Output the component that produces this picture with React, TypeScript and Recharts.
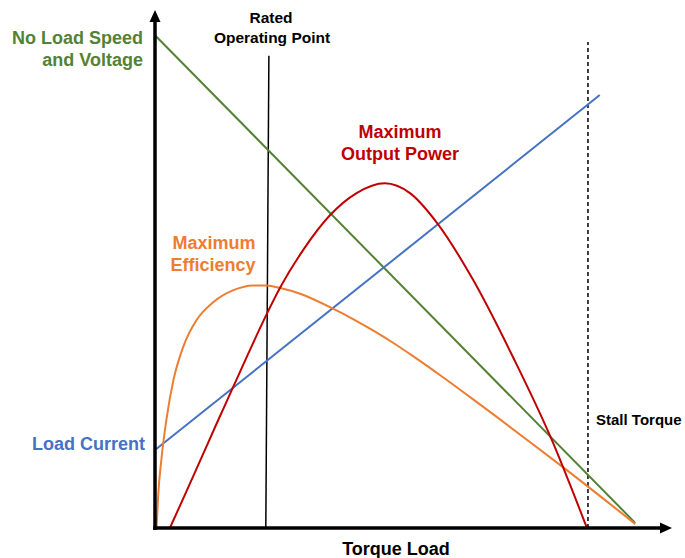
import React from "react"
import { LineChart, Line, XAxis, YAxis, ReferenceLine } from "recharts"

// torque load (0-100) vs normalised quantity (0-100)
const speedPts = [
  { x: 0, y: 95.5 },
  { x: 93.6, y: 1.0 },
]
const currentPts = [
  { x: 0, y: 15.1 },
  { x: 86.7, y: 83.9 },
]
const powerPts = [
  { x: 2.9, y: 0 },
  { x: 6.0, y: 6.8 },
  { x: 9.0, y: 13.5 },
  { x: 12.0, y: 20.2 },
  { x: 15.0, y: 26.8 },
  { x: 18.0, y: 33.4 },
  { x: 21.7, y: 41.3 },
  { x: 24.4, y: 46.6 },
  { x: 28.9, y: 53.9 },
  { x: 34.1, y: 60.6 },
  { x: 39.3, y: 64.9 },
  { x: 44.8, y: 66.8 },
  { x: 49.7, y: 64.9 },
  { x: 55.0, y: 59.1 },
  { x: 62.0, y: 48.1 },
  { x: 69.8, y: 33.1 },
  { x: 77.6, y: 16.5 },
  { x: 81.5, y: 6.9 },
  { x: 84.2, y: 0 },
]
const efficiencyPts = [
  { x: 0.3, y: 0 },
  { x: 0.6, y: 6.0 },
  { x: 1.3, y: 13.8 },
  { x: 2.3, y: 21.5 },
  { x: 3.6, y: 28.7 },
  { x: 5.5, y: 35.1 },
  { x: 8.1, y: 40.3 },
  { x: 11.4, y: 43.8 },
  { x: 15.3, y: 46.1 },
  { x: 19.2, y: 47.0 },
  { x: 21.8, y: 47.0 },
  { x: 24.4, y: 46.5 },
  { x: 28.3, y: 45.4 },
  { x: 34.7, y: 42.5 },
  { x: 38.6, y: 40.5 },
  { x: 42.5, y: 38.3 },
  { x: 46.4, y: 35.9 },
  { x: 50.3, y: 33.3 },
  { x: 55.6, y: 29.6 },
  { x: 63.4, y: 23.9 },
  { x: 79.9, y: 11.5 },
  { x: 93.6, y: 0.8 },
]
const ratedPts = [
  { x: 22.2, y: 91.5 },
  { x: 21.6, y: 0 },
]
const stallX = 84.4
const stallTop = 94.2

const GREEN = "#548235"
const BLUE = "#4472c4"
const RED = "#c00000"
const ORANGE = "#ed7d31"
const FONT = "'Liberation Sans', Arial, sans-serif"

// axis line with an arrowhead at its far end
const arrowAxis = (dir: "x" | "y") => (props: any) => {
  const { x1, y1, x2, y2 } = props
  const sx = dir === "x" ? Math.min(x1, x2) : x1
  const sy = dir === "x" ? y1 : Math.max(y1, y2)
  const ex = dir === "x" ? Math.max(x1, x2) : x1
  const ey = dir === "x" ? y1 : Math.min(y1, y2)
  const head =
    dir === "x"
      ? `${ex + 4},${ey} ${ex - 8},${ey - 5.5} ${ex - 8},${ey + 5.5}`
      : `${ex},${ey - 2} ${ex - 5.5},${ey + 10} ${ex + 5.5},${ey + 10}`
  return (
    <g>
      <line
        x1={dir === "x" ? sx - 2 : sx}
        y1={dir === "y" ? sy + 2 : sy}
        x2={dir === "x" ? ex - 6 : ex}
        y2={dir === "y" ? ey + 8 : ey}
        stroke="#000"
        strokeWidth={3.5}
      />
      <polygon points={head} fill="#000" />
    </g>
  )
}

export default function App() {
  return (
    <div style={{ position: "absolute", left: 0, top: 0, width: 685, height: 558, background: "#fff", overflow: "hidden" }}>
      <LineChart width={685} height={558} margin={{ top: 12, right: 17, bottom: 30, left: 155 }}>
        <XAxis type="number" dataKey="x" domain={[0, 100]} hide allowDataOverflow />
        <YAxis type="number" dataKey="y" domain={[0, 100]} hide allowDataOverflow />
        <Line data={ratedPts} dataKey="y" type="linear" stroke="#000" strokeWidth={1.5} dot={false} isAnimationActive={false} />
        <ReferenceLine
          segment={[{ x: stallX, y: 0 }, { x: stallX, y: stallTop }]}
          stroke="#000"
          strokeWidth={1.5}
          strokeDasharray="4 3"
          ifOverflow="visible"
        />
        <Line data={speedPts} dataKey="y" type="linear" stroke={GREEN} strokeWidth={2} dot={false} isAnimationActive={false} />
        <Line data={currentPts} dataKey="y" type="linear" stroke={BLUE} strokeWidth={2} dot={false} isAnimationActive={false} />
        <Line data={efficiencyPts} dataKey="y" type="monotone" stroke={ORANGE} strokeWidth={2} dot={false} isAnimationActive={false} />
        <Line data={powerPts} dataKey="y" type="monotone" stroke={RED} strokeWidth={2} dot={false} isAnimationActive={false} />
        <ReferenceLine segment={[{ x: 0, y: 0 }, { x: 100, y: 0 }]} ifOverflow="visible" shape={arrowAxis("x")} />
        <ReferenceLine segment={[{ x: 0, y: 0 }, { x: 0, y: 100 }]} ifOverflow="visible" shape={arrowAxis("y")} />
      </LineChart>
      <svg width={685} height={558} style={{ position: "absolute", left: 0, top: 0, pointerEvents: "none" }}>
        <g fontFamily={FONT} fontWeight="bold">
          <text x={143} y={44} fontSize={18} fill={GREEN} textAnchor="end">No Load Speed</text>
          <text x={143} y={66} fontSize={18} fill={GREEN} textAnchor="end">and Voltage</text>
          <text x={271} y={23} fontSize={15.5} fill="#000" textAnchor="middle">Rated</text>
          <text x={272} y={43} fontSize={15.5} fill="#000" textAnchor="middle">Operating Point</text>
          <text x={400} y={138} fontSize={18} fill={RED} textAnchor="middle">Maximum</text>
          <text x={400} y={160} fontSize={18} fill={RED} textAnchor="middle">Output Power</text>
          <text x={214} y={249} fontSize={18} fill={ORANGE} textAnchor="middle">Maximum</text>
          <text x={213} y={271} fontSize={18} fill={ORANGE} textAnchor="middle">Efficiency</text>
          <text x={145} y={450} fontSize={18} fill={BLUE} textAnchor="end">Load Current</text>
          <text x={596} y={425} fontSize={15} fill="#000">Stall Torque</text>
          <text x={396} y={555} fontSize={18} fill="#000" textAnchor="middle">Torque Load</text>
        </g>
      </svg>
    </div>
  )
}
